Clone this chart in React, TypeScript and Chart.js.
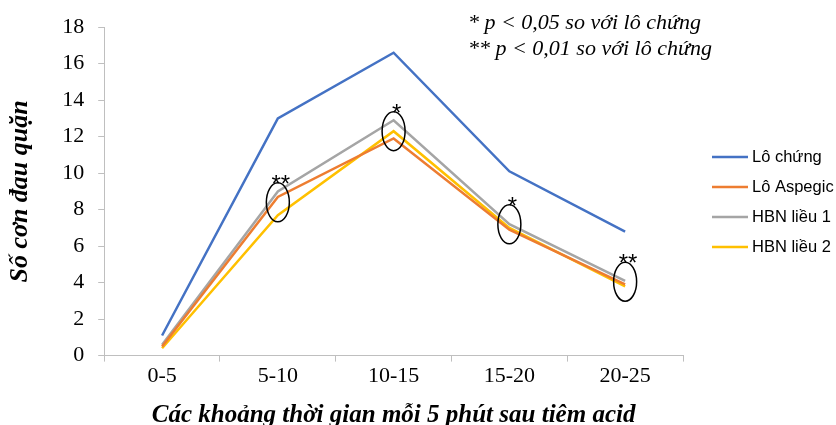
import React, { useEffect, useRef } from "react";
import { Chart, registerables } from "chart.js";

Chart.register(...registerables);

const categories = ["0-5", "5-10", "10-15", "15-20", "20-25"];
const loChung = [1.1, 13.0, 16.6, 10.1, 6.8];
const loAspegic = [0.5, 8.7, 11.9, 6.9, 3.9];
const hbnLieu1 = [0.6, 9.0, 12.9, 7.2, 4.1];
const hbnLieu2 = [0.4, 7.7, 12.3, 7.0, 3.8];
const seriesNames = ["Lô chứng", "Lô Aspegic", "HBN liều 1", "HBN liều 2"];
const seriesColors = ["#4472C4", "#ED7D31", "#A5A5A5", "#FFC000"];
const yTicks = [0, 2, 4, 6, 8, 10, 12, 14, 16, 18];
const markIndex = [1, 2, 3, 4];
const markValue = [8.4, 12.3, 7.2, 4.05];
const markStars = ["**", "*", "*", "**"];
const noteLines = ["* p < 0,05 so với lô chứng", "** p < 0,01 so với lô chứng"];
const yTitle = "Số cơn đau quặn";
const xTitle = "Các khoảng thời gian mỗi 5 phút sau tiêm acid";

const annotationPlugin = {
  id: "marks",
  afterDatasetsDraw(chart: any) {
    const ctx = chart.ctx;
    const xs = chart.scales.x;
    const ys = chart.scales.y;
    ctx.save();
    markIndex.forEach((idx, i) => {
      const x = xs.getPixelForValue(idx);
      const y = ys.getPixelForValue(markValue[i]);
      ctx.beginPath();
      ctx.ellipse(x, y, 11.5, 19.5, 0, 0, Math.PI * 2);
      ctx.strokeStyle = "#000";
      ctx.lineWidth = 1.5;
      ctx.stroke();
      ctx.fillStyle = "#000";
      ctx.font = "24px 'Liberation Sans'";
      ctx.textAlign = "center";
      ctx.textBaseline = "alphabetic";
      ctx.fillText(markStars[i], x + 3, y - 19.5 + 9);
    });
    // note text
    ctx.font = "italic 22px 'Liberation Serif'";
    ctx.textAlign = "left";
    ctx.fillText(noteLines[0], 468, 29);
    ctx.fillText(noteLines[1], 468, 55);
    // legend
    ctx.font = "16.5px 'Liberation Sans'";
    ctx.textBaseline = "middle";
    seriesNames.forEach((name, i) => {
      const ly = 157 + i * 30;
      ctx.beginPath();
      ctx.moveTo(712, ly);
      ctx.lineTo(748, ly);
      ctx.strokeStyle = seriesColors[i];
      ctx.lineWidth = 2.5;
      ctx.stroke();
      ctx.fillStyle = "#000";
      ctx.fillText(name, 752, ly);
    });
    ctx.restore();
  },
};

export default function App() {
  const ref = useRef<HTMLCanvasElement | null>(null);
  useEffect(() => {
    if (!ref.current) return;
    const data = [loChung, loAspegic, hbnLieu1, hbnLieu2];
    const chart = new Chart(ref.current, {
      type: "line",
      data: {
        labels: categories,
        datasets: seriesNames.map((n, i) => ({
          label: n,
          data: data[i],
          borderColor: seriesColors[i],
          backgroundColor: seriesColors[i],
          borderWidth: 2.5,
          pointRadius: 0,
          tension: 0,
          fill: false,
        })),
      },
      options: {
        animation: false,
        responsive: true,
        maintainAspectRatio: false,
        layout: { padding: { top: 26, right: 153, bottom: -6, left: 5 } },
        plugins: { legend: { display: false }, tooltip: { enabled: false } },
        scales: {
          x: {
            offset: true,
            grid: { offset: true, drawOnChartArea: false, drawTicks: true, tickLength: 6, color: "#BFBFBF" },
            border: { color: "#BFBFBF" },
            ticks: { color: "#000", font: { family: "'Liberation Serif'", size: 22 }, padding: 1 },
            title: {
              display: true,
              text: xTitle,
              color: "#000",
              font: { family: "'Liberation Serif'", size: 25, style: "italic", weight: "bold" },
              padding: { top: 11, bottom: 0 },
            },
          },
          y: {
            min: 0,
            max: 18,
            afterBuildTicks(axis: any) {
              axis.ticks = yTicks.map((v) => ({ value: v }));
            },
            grid: { drawOnChartArea: false, drawTicks: true, tickLength: 6, color: "#BFBFBF" },
            border: { color: "#BFBFBF" },
            ticks: { color: "#000", font: { family: "'Liberation Serif'", size: 22 }, padding: 14 },
            title: {
              display: true,
              text: yTitle,
              color: "#000",
              font: { family: "'Liberation Serif'", size: 26, style: "italic", weight: "bold" },
              padding: { top: 0, bottom: 12 },
            },
          },
        },
      },
      plugins: [annotationPlugin],
    });
    return () => chart.destroy();
  }, []);
  return (
    <div style={{ position: "fixed", left: 0, top: 0, width: 836, height: 425, background: "#fff" }}>
      <canvas ref={ref} />
    </div>
  );
}
